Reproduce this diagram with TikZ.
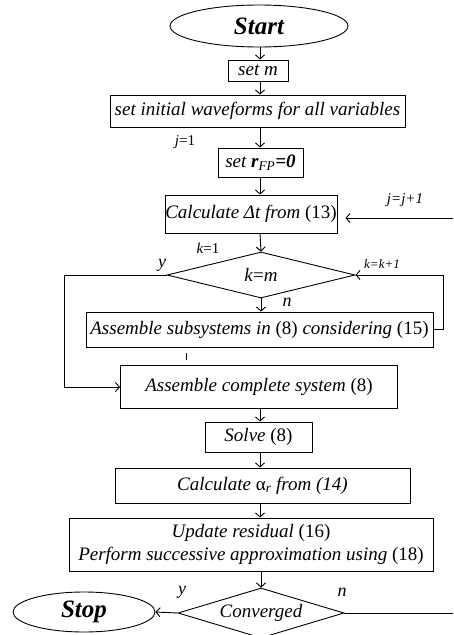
\documentclass[tikz,border=0pt]{standalone}
\usepackage{fontspec}
\setmainfont{Liberation Serif}
\usetikzlibrary{shapes.geometric,arrows.meta}
\tikzset{>={Straight Barb[length=4pt,width=9pt]}}
\tikzset{
	box/.style={draw, rectangle, inner sep=0pt, font=\fontsize{19}{23}\selectfont\itshape},
	term/.style={draw, ellipse, inner sep=0pt, font=\fontsize{25}{28}\selectfont\bfseries\itshape},
	decision/.style={draw, diamond, inner sep=0pt, font=\fontsize{19}{23}\selectfont\itshape},
	note/.style={inner sep=0pt, font=\fontsize{15}{17}\selectfont\itshape},
	yesno/.style={inner sep=0pt, font=\fontsize{18}{20}\selectfont\itshape}
}

\begin{document}
\begin{tikzpicture}[x=1pt, y=-1pt, line width=0.9pt]
	\useasboundingbox (0,0) rectangle (453,635);

	% main column
	\node[term, minimum width=178pt, minimum height=42pt] (start) at (259,26) {Start};
	\node[box, minimum width=60pt, minimum height=21pt] (setm) at (258,70.5) {set m};
	\node[box, minimum width=295pt, minimum height=32pt] (init) at (257.5,111) {set initial waveforms for all variables};
	\node[box, minimum width=85pt, minimum height=29pt] (rfp) at (260.5,162.5) {set \textbf{r}\textsubscript{FP}\textbf{=0}};
	\node[box, minimum width=172pt, minimum height=38pt] (calc) at (251,214) {Calculate Δt from \textup{(13)}};
	\node[decision, shape aspect=4.1, minimum width=188pt, minimum height=46pt] (kdec) at (261,275) {k\textup{=}m};
	\node[box, minimum width=347pt, minimum height=35pt] (sub) at (259.5,329.5) {Assemble subsystems in \textup{(8)} considering \textup{(15)}};
	\node[box, minimum width=277pt, minimum height=43pt] (full) at (259,387) {Assemble complete system \textup{(8)}};
	\node[box, minimum width=107pt, minimum height=30pt] (solve) at (258.5,437) {Solve \textup{(8)}};
	\node[box, minimum width=295pt, minimum height=35pt] (alpha) at (262.5,485.5) {Calculate \textup{α}\textsubscript{r} from (14)};
	\node[box, minimum width=364pt, minimum height=53pt, align=center] (upd) at (251,544.5) {Update residual \textup{(16)}\\ Perform successive approximation using \textup{(18)}};
	\node[decision, shape aspect=3.3, minimum width=166pt, minimum height=50pt] (conv) at (261,613) {Converged};
	\node[term, minimum width=142pt, minimum height=40pt] (stop) at (84,612) {Stop};

	% free ends and bends
	\coordinate (axis) at (260,0);
	\coordinate (jin) at (453,218);
	\coordinate (nout) at (453,613);
	\coordinate (ybus) at (64,0);

	\draw[->] (start.south -| axis) -- (setm.north -| axis);
	\draw[->] (setm.south -| axis) -- (init.north -| axis);
	\draw[->] (init.south -| axis) -- (rfp.north -| axis);
	\draw[->] (rfp.south -| axis) -- (calc.north -| axis);
	\draw[->] (calc.south -| axis) -- (kdec.north);
	\draw[->] (kdec.south) -- (kdec.south |- sub.north);
	\draw[->] (kdec.west) -- (kdec.west -| ybus) |- (full.west);
	\draw[->] (sub.east) -- ++(10,0) |- (kdec.east);
	\draw (186,353) -- (186,360);
	\draw[->] (full.south -| axis) -- (solve.north -| axis);
	\draw[->] (solve.south -| axis) -- (alpha.north -| axis);
	\draw[->] (alpha.south -| axis) -- (upd.north -| axis);
	\draw[->] (upd.south -| conv.north) -- (conv.north);
	\draw[->] (conv.west) -- (stop.east);
	\draw[->, shorten >=8pt] (jin) -- (jin -| calc.east);
	\draw (conv.east) -- (nout);

	% labels
	\node[note] (jone) at (185,142) {j\textup{=1}};
	\node[note] (jnext) at (405,200) {j=j+1};
	\node[note] (kone) at (208,248) {k\textup{=1}};
	\node[note, font=\fontsize{13}{15}\selectfont\itshape] (knext) at (382,264) {k=k+1};
	\node[yesno] (kyes) at (162,265) {y};
	\node[yesno] (kno) at (287,302) {n};
	\node[yesno] (cyes) at (182,592) {y};
	\node[yesno] (cno) at (342,592) {n};
\end{tikzpicture}
\end{document}
